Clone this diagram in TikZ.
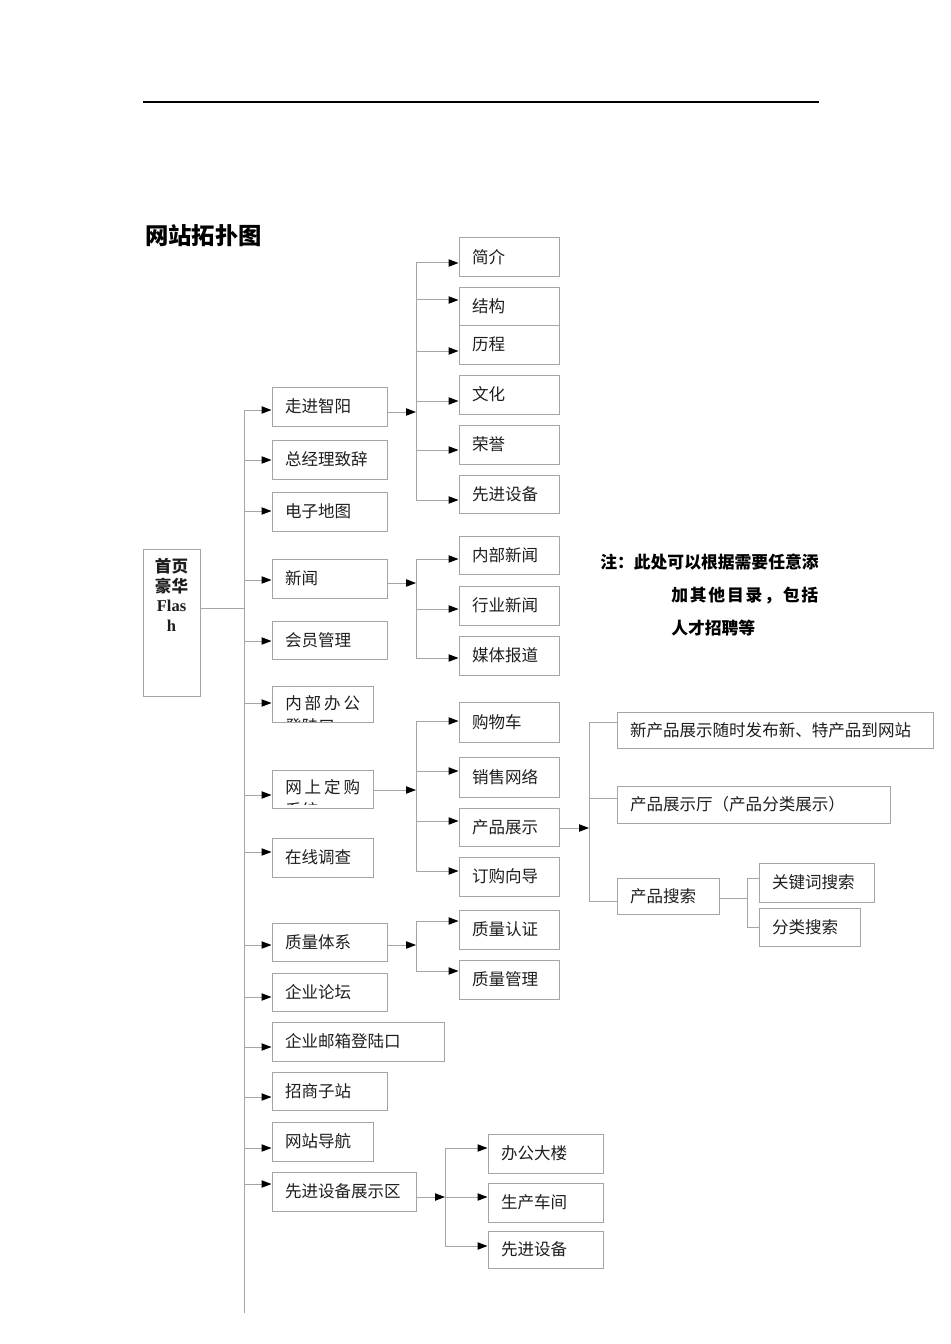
\documentclass[tikz,border=0pt]{standalone}
\usepackage{fontspec}
\setmainfont{Noto Sans CJK SC}
\newfontfamily\tnr{Liberation Serif}
\usetikzlibrary{arrows.meta}
\definecolor{linegray}{RGB}{165,165,165}
\definecolor{txt}{RGB}{30,30,30}
\tikzset{
  box/.style={draw=linegray, line width=0.75pt, rectangle, inner xsep=9.75pt, inner ysep=0pt,
    align=left, font=\fontsize{12.4pt}{17pt}\selectfont, text=txt},
  conn/.style={draw=linegray, line width=0.75pt},
  arr/.style={conn, -{Triangle[length=7.5pt,width=5.5pt,color=black]}},
  clipline/.style={anchor=base west, inner sep=0pt, align=left,
    font=\fontsize{12.4pt}{17.25pt}\selectfont, text=txt},
}
% \bx{name}{left}{top}{right}{bottom}{text}
\newcommand\bx[6]{%
  \pgfmathsetmacro\bxw{(#4-#2)*0.75}%
  \pgfmathsetmacro\bxh{(#5-#3)*0.75}%
  \pgfmathsetmacro\bxt{(#4-#2)*0.75-19.5}%
  \node[box, minimum width=\bxw pt, minimum height=\bxh pt, text width=\bxt pt]
    (#1) at ({(#2+#4)/2},{(#3+#5)/2}) {#6};}
% \cbx{name}{left}{top}{right}{bottom}{two-line text}{bottom clip in px}
\newcommand\cbx[7]{%
  \pgfmathsetmacro\bxw{(#4-#2)*0.75}%
  \pgfmathsetmacro\bxh{(#5-#3)*0.75}%
  \pgfmathsetmacro\bxt{(#4-#2)*0.75-19.5}%
  \begin{scope}
    \clip (#2,#3) rectangle (#4,{#5-#7});
    \node[clipline, text width=\bxt pt] (#1text) at ({#2+13},{#3+23.4}) {#6};
  \end{scope}
  \node[draw=linegray, line width=0.75pt, rectangle, inner sep=0pt,
    minimum width=\bxw pt, minimum height=\bxh pt] (#1) at ({(#2+#4)/2},{(#3+#5)/2}) {};}

\begin{document}
\begin{tikzpicture}[x=0.75pt,y=-0.75pt]
\useasboundingbox (0,0) rectangle (950,1344);

% top rule and title
\coordinate (ruleL) at (143,102);
\coordinate (ruleR) at (819,102);
\draw[line width=1.5pt] (ruleL) -- (ruleR);
\node[anchor=west, inner sep=0pt, font=\bfseries\fontsize{17.5pt}{20pt}\selectfont] (title) at (145,236) {网站拓扑图};

% main box
\node[draw=linegray, line width=0.75pt, inner sep=0pt, text=txt] (main) at (171.5,622.5)
  {\parbox[c][110.25pt][t]{42.75pt}{\centering\bfseries\fontsize{12.4pt}{14.6pt}\selectfont
   \vspace*{7pt}首页\\豪华\\{\tnr\bfseries Flas}\\{\tnr\bfseries h}}};

% level 1
\bx{a1}{272}{387}{387}{426}{走进智阳}
\bx{a2}{272}{440}{387}{479}{总经理致辞}
\bx{a3}{272}{492}{387}{531}{电子地图}
\bx{a4}{272}{559}{387}{598}{新闻}
\bx{a5}{272}{621}{387}{659}{会员管理}
\cbx{a6}{272}{686}{373}{722}{\makebox[\linewidth][s]{内\hfill 部\hfill 办\hfill 公}\\登陆口}{1}
\cbx{a7}{272}{770}{373}{808}{\makebox[\linewidth][s]{网\hfill 上\hfill 定\hfill 购}\\系统}{4}
\bx{a8}{272}{838}{373}{877}{在线调查}
\bx{a9}{272}{923}{387}{961}{质量体系}
\bx{a10}{272}{973}{387}{1011}{企业论坛}
\bx{a11}{272}{1022}{444}{1061}{企业邮箱登陆口}
\bx{a12}{272}{1072}{387}{1110}{招商子站}
\bx{a13}{272}{1122}{373}{1161}{网站导航}
\bx{a14}{272}{1172}{416}{1211}{先进设备展示区}

% level 2: 走进智阳
\bx{b1}{459}{238}{559}{277}{简介}
\bx{b2}{459}{288}{559}{325}{结构}
\bx{b3}{459}{325}{559}{364}{历程}
\bx{b4}{459}{375}{559}{414}{文化}
\bx{b5}{459}{425}{559}{464}{荣誉}
\bx{b6}{459}{475}{559}{513}{先进设备}
% 新闻
\bx{c1}{459}{536}{559}{574}{内部新闻}
\bx{c2}{459}{586}{559}{625}{行业新闻}
\bx{c3}{459}{636}{559}{675}{媒体报道}
% 网上定购
\bx{d1}{459}{702}{559}{742}{购物车}
\bx{d2}{459}{757}{559}{797}{销售网络}
\bx{d3}{459}{808}{559}{846}{产品展示}
\bx{d4}{459}{857}{559}{896}{订购向导}
% 产品展示
\bx{e1}{617}{712}{933}{748}{新产品展示随时发布新、特产品到网站}
\bx{e2}{617}{786}{890}{823}{产品展示厅（产品分类展示）}
\bx{e3}{617}{878}{719}{914}{产品搜索}
\bx{f1}{759}{863}{874}{902}{关键词搜索}
\bx{f2}{759}{908}{860}{946}{分类搜索}
% 质量体系
\bx{g1}{459}{910}{559}{949}{质量认证}
\bx{g2}{459}{960}{559}{999}{质量管理}
% 先进设备展示区
\bx{h1}{488}{1134}{603}{1173}{办公大楼}
\bx{h2}{488}{1183}{603}{1222}{生产车间}
\bx{h3}{488}{1231}{603}{1268}{先进设备}

% note (base of a multi-line node is its last line)
\node[anchor=base west, align=left, inner sep=0pt, text=black,
  font=\bfseries\fontsize{12.6pt}{24.4pt}\selectfont] (note) at (600,634)
  {注：此处可以根据需要任意添\\
   \hspace*{53.25pt}\makebox[110.25pt][s]{加\hfill 其\hfill 他\hfill 目\hfill 录\hfill ，\hfill 包\hfill 括}\\
   \hspace*{53.25pt}人才招聘等};

% trunk
\coordinate (tTop) at (244,410);
\coordinate (tBot) at (244,1313);
\coordinate (tMain) at (244,608);
\draw[conn] (tTop) -- (tBot);
\draw[conn] (main.east |- tMain) -- (tMain);
\foreach \n/\y in {a1/410,a2/460,a3/511,a4/580,a5/641,a6/703,a7/795,a8/852,a9/945,a10/997,a11/1047,a12/1097,a13/1148,a14/1184}
  {\coordinate (q) at (244,\y); \draw[arr] (q) -- (q -| \n.west);}

% group 走进智阳
\coordinate (kA) at (416,412);
\coordinate (kAt) at (416,263);
\coordinate (kAb) at (416,500);
\draw[arr] (kA -| a1.east) -- (kA);
\draw[conn] (kAt) -- (kAb);
\foreach \n/\y in {b1/263,b2/300,b3/351,b4/401,b5/450,b6/500}
  {\coordinate (q) at (416,\y); \draw[arr] (q) -- (q -| \n.west);}

% group 新闻
\coordinate (kB) at (416,583);
\coordinate (kBt) at (416,559);
\coordinate (kBb) at (416,658);
\draw[arr] (kB -| a4.east) -- (kB);
\draw[conn] (kBt) -- (kBb);
\foreach \n/\y in {c1/559,c2/609,c3/658}
  {\coordinate (q) at (416,\y); \draw[arr] (q) -- (q -| \n.west);}

% group 网上定购
\coordinate (kC) at (416,790);
\coordinate (kCt) at (416,721);
\coordinate (kCb) at (416,871);
\draw[arr] (kC -| a7.east) -- (kC);
\draw[conn] (kCt) -- (kCb);
\foreach \n/\y in {d1/721,d2/771,d3/821,d4/871}
  {\coordinate (q) at (416,\y); \draw[arr] (q) -- (q -| \n.west);}

% group 产品展示
\coordinate (kD) at (589,828);
\coordinate (kDt) at (589,722);
\coordinate (kDb) at (589,901);
\draw[arr] (kD -| d3.east) -- (kD);
\draw[conn] (kDt) -- (kDb);
\foreach \n/\y in {e1/722,e2/798,e3/901}
  {\coordinate (q) at (589,\y); \draw[conn] (q) -- (q -| \n.west);}

% group 产品搜索
\coordinate (kE) at (747,898);
\coordinate (kEt) at (747,878);
\coordinate (kEb) at (747,927);
\draw[conn] (kE -| e3.east) -- (kE);
\draw[conn] (kEt) -- (kEb);
\foreach \n/\y in {f1/878,f2/927}
  {\coordinate (q) at (747,\y); \draw[conn] (q) -- (q -| \n.west);}

% group 质量体系
\coordinate (kF) at (416,945);
\coordinate (kFt) at (416,921);
\coordinate (kFb) at (416,971);
\draw[arr] (kF -| a9.east) -- (kF);
\draw[conn] (kFt) -- (kFb);
\foreach \n/\y in {g1/921,g2/971}
  {\coordinate (q) at (416,\y); \draw[arr] (q) -- (q -| \n.west);}

% group 先进设备展示区
\coordinate (kG) at (445,1197);
\coordinate (kGt) at (445,1148);
\coordinate (kGb) at (445,1246);
\draw[arr] (kG -| a14.east) -- (kG);
\draw[conn] (kGt) -- (kGb);
\foreach \n/\y in {h1/1148,h2/1197,h3/1246}
  {\coordinate (q) at (445,\y); \draw[arr] (q) -- (q -| \n.west);}
\end{tikzpicture}
\end{document}
